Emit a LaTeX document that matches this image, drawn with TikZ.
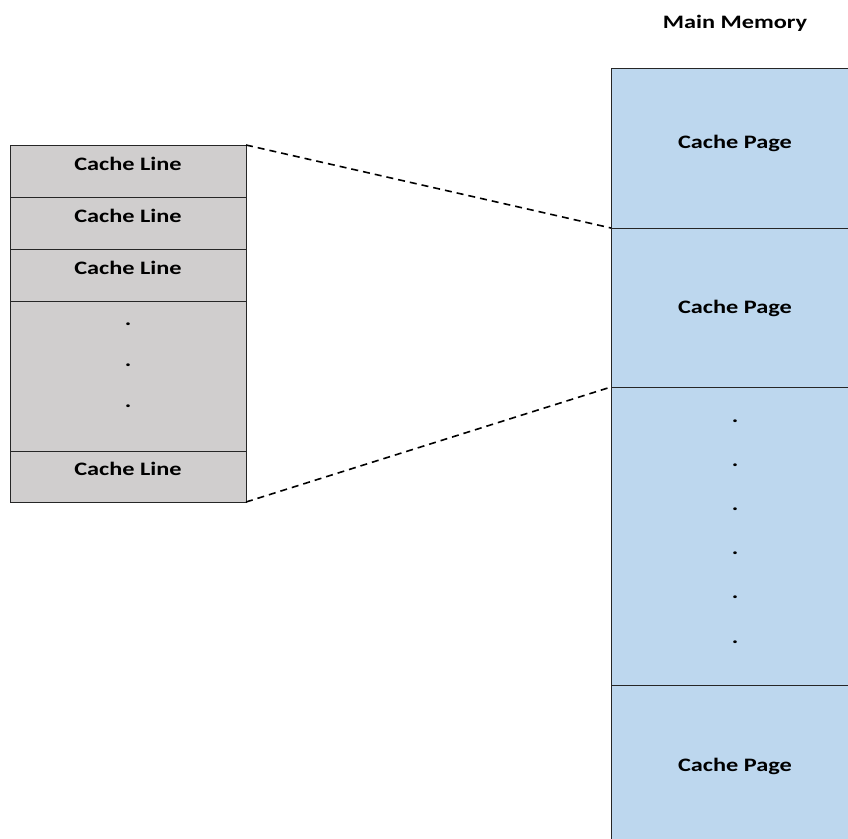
\documentclass[tikz,border=0pt]{standalone}
\usepackage{fontspec}
\newfontfamily\cellfont{Carlito}[FakeStretch=1.28]
\usepackage{tikz}
\usetikzlibrary{positioning}
\definecolor{lineGray}{HTML}{D0CECE}
\definecolor{pageBlue}{HTML}{BDD7EE}
\tikzstyle{lineCell} = [
        rectangle,
        draw=black!85,
        fill=lineGray,
        line width=0.8pt,
        minimum width=236pt,
        inner sep=0pt,
        outer sep=0pt,
        text height=25pt,
        text depth=27pt,
        font=\cellfont\bfseries\fontsize{19}{22}\selectfont
    ]
\tikzstyle{pageCell} = [
        rectangle,
        draw=black!85,
        fill=pageBlue,
        line width=0.8pt,
        minimum width=248pt,
        inner sep=0pt,
        outer sep=0pt,
        font=\cellfont\bfseries\fontsize{19}{22}\selectfont
    ]
\tikzstyle{mapLine} = [line width=1.6pt, dash pattern=on 7pt off 5pt]

\begin{document}
\begin{tikzpicture}[x=1pt, y=1pt]
    \useasboundingbox (0,0) rectangle (848,-838);
    % cache lines (left)
    \node (l1) [lineCell, anchor=north west] at (10,-145) {Cache Line};
    \node (l2) [lineCell, below=0pt of l1] {Cache Line};
    \node (l3) [lineCell, below=0pt of l2] {Cache Line};
    \node (l4) [lineCell, below=0pt of l3, text height=75pt, text depth=75pt] {};
    \node (l5) [lineCell, below=0pt of l4, text height=24pt, text depth=27pt] {Cache Line};
    \foreach \i in {0,1,2}
        \node [font=\cellfont\bfseries\fontsize{19}{22}\selectfont, inner sep=0pt, anchor=base]
            at ([yshift=-24pt-41*\i pt]l4.north) {.};
    % main memory (right)
    \node (p1) [pageCell, anchor=north west, text height=80pt, text depth=80pt] at (611,-68) {Cache Page};
    \node (p2) [pageCell, below=0pt of p1, text height=85pt, text depth=74pt] {Cache Page};
    \node (p3) [pageCell, below=0pt of p2, text height=149pt, text depth=149pt] {};
    \node (p4) [pageCell, below=0pt of p3, text height=86pt, text depth=84pt] {Cache Page};
    \foreach \i in {0,...,5}
        \node [font=\cellfont\bfseries\fontsize{19}{22}\selectfont, inner sep=0pt, anchor=base]
            at ([yshift=-35pt-44.2*\i pt]p3.north) {.};
    \node (mm) [above=36pt of p1, inner sep=0pt, font=\cellfont\bfseries\fontsize{19}{22}\selectfont] {Main Memory};
    % mapping
    \draw [mapLine] (l1.north east) -- (p2.north west);
    \draw [mapLine] (l5.south east) -- (p3.north west);
\end{tikzpicture}
\end{document}
